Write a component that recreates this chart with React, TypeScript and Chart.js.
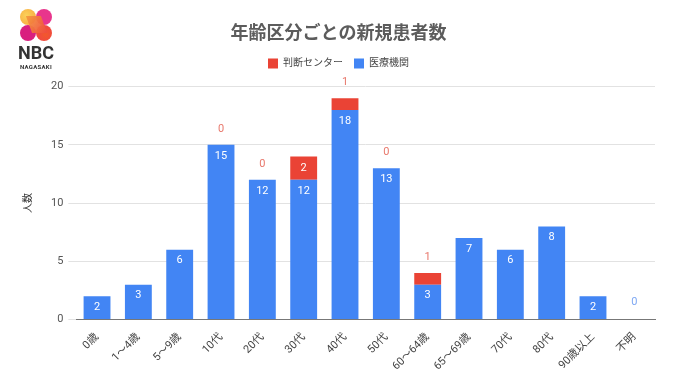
import React, { useEffect, useRef } from "react";
import { Chart, registerables } from "chart.js";

Chart.register(...registerables);

const categories = ["0歳", "1～4歳", "5～9歳", "10代", "20代", "30代", "40代", "50代", "60～64歳", "65～69歳", "70代", "80代", "90歳以上", "不明"];
const hospitalValues: (number | null)[] = [2, 3, 6, 15, 12, 12, 18, 13, 3, 7, 6, 8, 2, 0];
const centerValues: (number | null)[] = [null, null, null, 0, 0, 2, 1, 0, 1, null, null, null, null, null];
const yTicks = [0, 5, 10, 15, 20];

const BLUE = "#4285F4";
const RED = "#EA4335";
const FONT = "Roboto, 'Noto Sans CJK JP', sans-serif";

const labelPlugin = {
  id: "valueLabels",
  afterDatasetsDraw(chart: any) {
    const ctx = chart.ctx;
    const yScale = chart.scales.y;
    const base = yScale.getPixelForValue(0);
    const blueMeta = chart.getDatasetMeta(0);
    const redMeta = chart.getDatasetMeta(1);
    ctx.save();
    ctx.font = `11px ${FONT}`;
    ctx.textAlign = "center";
    ctx.textBaseline = "middle";
    hospitalValues.forEach((v, i) => {
      if (v === null) return;
      const el = blueMeta.data[i];
      if (!el) return;
      if (v > 0) {
        ctx.fillStyle = "#ffffff";
        ctx.fillText(String(v), el.x, el.y + 11);
      } else {
        ctx.fillStyle = "#7ea8f3";
        ctx.fillText(String(v), el.x, base - 17);
      }
    });
    centerValues.forEach((v, i) => {
      if (v === null) return;
      const el = redMeta.data[i];
      if (!el) return;
      const h = Math.abs(el.base - el.y);
      if (v > 0 && h >= 18) {
        ctx.fillStyle = "#ffffff";
        ctx.fillText(String(v), el.x, (el.y + el.base) / 2);
      } else {
        ctx.fillStyle = "#e8786c";
        ctx.fillText(String(v), el.x, el.y - 16);
      }
    });
    ctx.restore();
  },
};

const legendSpacer = {
  id: "legendSpacer",
  beforeInit(chart: any) {
    const legend = chart.legend;
    if (!legend) return;
    const origFit = legend.fit;
    legend.fit = function () {
      origFit.call(this);
      this.height += 8;
    };
  },
};

function Logo() {
  const c = (left: number, top: number, bg: string) => (
    <div style={{ position: "absolute", left, top, width: 16, height: 16, borderRadius: "50%", background: bg }} />
  );
  return (
    <div style={{ position: "absolute", left: 0, top: 0, width: 80, height: 75 }}>
      {c(20, 9, "radial-gradient(circle at 40% 40%, #fbd15a, #f7a23a)")}
      {c(36, 9, "#e8358c")}
      {c(20, 25, "#d91f7f")}
      {c(36, 25, "radial-gradient(circle at 60% 60%, #f2582c, #ee3f4f)")}
      <div style={{ position: "absolute", left: 29, top: 16, width: 15, height: 17, background: "linear-gradient(135deg, #f49a3d, #ef4a3f)", transform: "skewX(20deg)", opacity: 0.95 }} />
      <div style={{ position: "absolute", left: 16, top: 42, width: 40, textAlign: "center", font: `bold 18px ${FONT}`, color: "#333" }}>NBC</div>
      <div style={{ position: "absolute", left: 13, top: 63, width: 46, textAlign: "center", font: `bold 6px ${FONT}`, color: "#333", letterSpacing: "0.3px" }}>NAGASAKI</div>
    </div>
  );
}

export default function App() {
  const ref = useRef<HTMLCanvasElement | null>(null);
  useEffect(() => {
    document.body.style.margin = "0";
    if (!ref.current) return;
    const chart = new Chart(ref.current, {
      type: "bar",
      data: {
        labels: categories,
        datasets: [
          { label: "医療機関", data: hospitalValues as any, backgroundColor: BLUE, borderWidth: 0, categoryPercentage: 1, barPercentage: 0.65 },
          { label: "判断センター", data: centerValues as any, backgroundColor: RED, borderWidth: 0, categoryPercentage: 1, barPercentage: 0.65 },
        ],
      },
      plugins: [legendSpacer, labelPlugin],
      options: {
        responsive: false,
        animation: false,
        layout: { padding: { left: 22, right: 25, top: 24, bottom: 6 } },
        plugins: {
          title: {
            display: true,
            text: "年齢区分ごとの新規患者数",
            color: "#5c5c5c",
            font: { family: FONT, size: 18, weight: "bold" },
            padding: { top: 0, bottom: 2 },
          },
          legend: {
            display: true,
            reverse: true,
            labels: {
              boxWidth: 10,
              boxHeight: 10,
              color: "#444",
              font: { family: FONT, size: 10 },
              padding: 11,
            },
          },
          tooltip: { enabled: false },
        },
        scales: {
          x: {
            stacked: true,
            grid: { display: false },
            border: { display: true, color: "#777", width: 1 },
            ticks: {
              color: "#444",
              font: { family: FONT, size: 11 },
              minRotation: 45,
              maxRotation: 45,
              autoSkip: false,
            },
          },
          y: {
            stacked: true,
            min: 0,
            max: 20,
            afterBuildTicks: (axis: any) => {
              axis.ticks = yTicks.map((v) => ({ value: v }));
            },
            grid: { color: "#e2e2e2", tickLength: 8 },
            border: { display: false },
            ticks: { color: "#555", font: { family: FONT, size: 11 }, padding: 5 },
            title: {
              display: true,
              text: "人数",
              color: "#333",
              font: { family: FONT, size: 10 },
              padding: { top: 0, bottom: 12 },
            },
          },
        },
      },
    } as any);
    return () => chart.destroy();
  }, []);
  return (
    <div style={{ position: "fixed", left: 0, top: 0, width: 680, height: 382, background: "#fff" }}>
      <canvas ref={ref} width={680} height={382} style={{ position: "absolute", left: 0, top: 0 }} />
      <Logo />
    </div>
  );
}
